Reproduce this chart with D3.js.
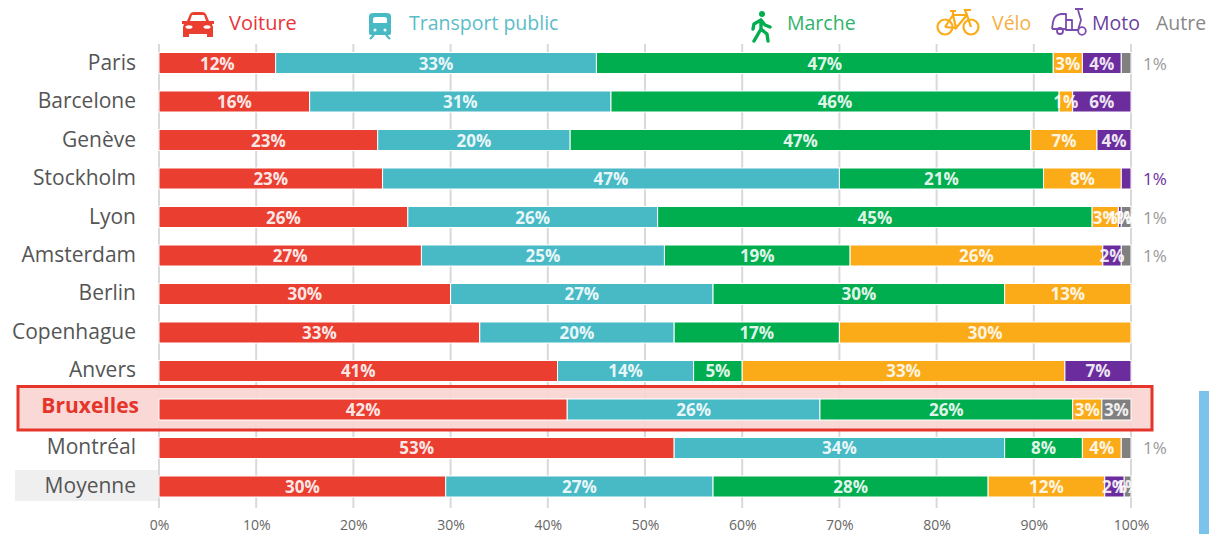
<!DOCTYPE html>
<html><head><meta charset="utf-8">
<script src="https://cdn.jsdelivr.net/npm/d3@7"></script>
<style>html,body{margin:0;padding:0;background:#fff}svg{display:block}text{font-family:"Open Sans","Noto Sans",sans-serif}</style>
</head><body><svg id="c" width="1209" height="534"></svg>
<script>
const cities=["Paris","Barcelone","Genève","Stockholm","Lyon","Amsterdam","Berlin","Copenhague","Anvers","Bruxelles","Montréal","Moyenne"];
const modes=["Voiture","Transport public","Marche","Vélo","Moto","Autre"];
const colors=["#ea3e30","#47bac6","#00ae50","#fbab18","#6b2d9e","#808080"];
const voiture=[12,15.5,22.5,23,25.6,27,30,33,41,42,53,29.5];
const transport=[33,31,19.8,47,25.7,25,27,20,14,26,34,27.5];
const marche=[47,46.1,47.4,21,44.7,19.1,30,17,5,26,8,28.3];
const velo=[3,1.4,6.8,8,2.7,26,13,30,33.2,3,4,12];
const moto=[4,6,3.5,1,0.3,1.9,0,0,6.8,0,0,2];
const autre=[1,0,0,0,1,1,0,0,0,3,1,0.7];
const labVoiture=["12%","16%","23%","23%","26%","27%","30%","33%","41%","42%","53%","30%"];
const labTransport=["33%","31%","20%","47%","26%","25%","27%","20%","14%","26%","34%","27%"];
const labMarche=["47%","46%","47%","21%","45%","19%","30%","17%","5%","26%","8%","28%"];
const labVelo=["3%","1%","7%","8%","3%","26%","13%","30%","33%","3%","4%","12%"];
const labMoto=["4%","6%","4%","","1%","2%","","","7%","","","2%"];
const labAutre=["","","","","1%","","","","","3%","","1%"];
const sideLabels=["1%","","","1%","1%","1%","","","","","1%",""];
const sideColors=["#999","","","#6b2d9e","#999","#999","","","","","#999",""];
const ticks=[0,10,20,30,40,50,60,70,80,90,100];

const svg=d3.select("#c");
const x=d3.scaleLinear().domain([0,100]).range([159,1131]);
const y=d3.scaleBand().domain(cities).range([52.5,497]).paddingInner(0.4545).paddingOuter(0);
const series=[voiture,transport,marche,velo,moto,autre];
const lab=[labVoiture,labTransport,labMarche,labVelo,labMoto,labAutre];
const rows=cities.map((c,i)=>{const r={city:c};modes.forEach((m,j)=>r[m]=series[j][i]);return r;});
const stacked=d3.stack().keys(modes)(rows);

// Highlight and average-row backgrounds
svg.append("rect").attr("x",15).attr("y",y("Moyenne")-6).attr("width",144).attr("height",31).attr("fill","#efefef");

// Side blue block
svg.append("rect").attr("x",1199).attr("y",391).attr("width",10).attr("height",143).attr("fill","#7bc3ea");

// Grid
svg.append("g").selectAll("line").data(ticks).join("line")
  .attr("x1",d=>x(d)).attr("x2",d=>x(d)).attr("y1",44).attr("y2",508)
  .attr("stroke","#d9d9d9").attr("stroke-width",2);

svg.append("rect").attr("x",18).attr("y",y("Bruxelles")-12.5).attr("width",1134).attr("height",43.5)
  .attr("fill","#f9d5d2").attr("fill-opacity",0.92).attr("stroke","#e5352b").attr("stroke-width",3);

// Axis
const axis=d3.axisBottom(x).tickValues(ticks).tickFormat(d=>d+"%").tickSize(0);
const ga=svg.append("g").attr("transform","translate(0,519)").call(axis);
ga.select(".domain").remove();
ga.selectAll("text").attr("font-size",14).attr("fill","#666").attr("dy","0.75em").attr("y",0);

// City labels
svg.append("g").selectAll("text").data(cities).join("text")
  .attr("x",d=>d==="Bruxelles"?139:136).attr("y",d=>y(d)+y.bandwidth()/2+(d==="Bruxelles"?4:6.5))
  .attr("text-anchor","end").attr("font-size",21)
  .attr("font-weight",d=>d==="Bruxelles"?700:400)
  .attr("fill",d=>d==="Bruxelles"?"#e5352b":"#555").text(d=>d);

// Bars
const g=svg.append("g").selectAll("g").data(stacked).join("g").attr("fill",(d,i)=>colors[i]);
g.selectAll("rect").data(d=>d).join("rect")
  .attr("x",d=>x(d[0])).attr("width",d=>Math.max(0,x(d[1])-x(d[0])))
  .attr("y",d=>y(d.data.city)).attr("height",y.bandwidth())
  .attr("stroke","#fff").attr("stroke-width",1);

// Bar labels
stacked.forEach((s,j)=>{
  svg.append("g").selectAll("text").data(s).join("text")
    .attr("x",d=>x((d[0]+d[1])/2)).attr("y",d=>y(d.data.city)+y.bandwidth()/2+6.5)
    .attr("text-anchor","middle").attr("font-size",17).attr("font-weight",700).attr("fill","#fff")
    .attr("fill-opacity",0.9)
    .text((d,i)=>lab[j][i]);
});

// Labels outside the bars
svg.append("g").selectAll("text").data(cities).join("text")
  .attr("x",1143).attr("y",d=>y(d)+y.bandwidth()/2+6.5)
  .attr("font-size",17).attr("fill",(d,i)=>sideColors[i]).text((d,i)=>sideLabels[i]);

// Legend
const legendX=[229,409,787,992,1092,1156];
const legendColors=["#e8333a","#5cbcc8","#2fb36b","#f5b042","#6b3fa0","#888"];
svg.append("g").selectAll("text").data(modes).join("text")
  .attr("x",(d,i)=>legendX[i]).attr("y",30).attr("font-size",(d,i)=>i===0?20:19.5)
  .attr("fill",(d,i)=>legendColors[i]).text(d=>d);

// Legend icons
const car=svg.append("g").attr("transform","translate(198,25)").attr("fill","#ea3e30");
car.append("path").attr("d","M-16,-4 L-11,-4 L-8,-11 Q-7,-13 -4,-13 L4,-13 Q7,-13 8,-11 L11,-4 L16,-4 L16,-1 L14,-1 L15,2 L15,12 L9,12 L9,9 L-9,9 L-9,12 L-15,12 L-15,2 L-14,-1 L-16,-1 Z");
car.append("path").attr("d","M-6,-10 L6,-10 L8,-4 L-8,-4 Z").attr("fill","#fff");
car.append("ellipse").attr("cx",-9).attr("cy",2).attr("rx",3.5).attr("ry",1.8).attr("fill","#fff");
car.append("ellipse").attr("cx",9).attr("cy",2).attr("rx",3.5).attr("ry",1.8).attr("fill","#fff");

const tram=svg.append("g").attr("transform","translate(380,25)");
tram.append("path").attr("d","M-11,-9 Q-11,-12 -6,-12 L6,-12 Q11,-12 11,-9 L11,8 Q11,10 8,10 L-8,10 Q-11,10 -11,8 Z").attr("fill","#47bac6");
tram.append("path").attr("d","M-7,-2 L-7,-6 Q-7,-8 -4,-8 L4,-8 Q7,-8 7,-6 L7,-2 Z").attr("fill","#fff");
tram.append("circle").attr("cx",-5).attr("cy",5).attr("r",1.5).attr("fill","#fff");
tram.append("circle").attr("cx",5).attr("cy",5).attr("r",1.5).attr("fill","#fff");
tram.append("path").attr("d","M-6,10 L-10,14 M6,10 L10,14").attr("stroke","#47bac6").attr("stroke-width",2.2);

const walk=svg.append("g").attr("transform","translate(761,26)").attr("stroke","#00ae50").attr("fill","none").attr("stroke-width",3.4).attr("stroke-linecap","round").attr("stroke-linejoin","round");
walk.append("circle").attr("cx",1).attr("cy",-12).attr("r",3).attr("fill","#00ae50").attr("stroke","none");
walk.append("path").attr("d","M0,-6 L0,3 L-7,15 M0,3 L6,8 L7,15 M0,-6 L-7,-2 L-8,3 M0,-6 L4,-1 L9,1");

const bike=svg.append("g").attr("transform","translate(958,23)").attr("stroke","#fbab18").attr("fill","none").attr("stroke-width",2.2);
bike.append("circle").attr("cx",-13).attr("cy",4).attr("r",7.5);
bike.append("circle").attr("cx",13).attr("cy",4).attr("r",7.5);
bike.append("path").attr("d","M-13,4 L-5,-8 L9,-8 L13,4 M-5,-8 L-2,5 L9,-8 M-2,5 L-13,4 M-8,-12 L-2,-12 M-5,-12 L-5,-8 M9,-8 L7,-13 L13,-13");

const scoot=svg.append("g").attr("transform","translate(1069,22)").attr("stroke","#7b4bb0").attr("fill","none").attr("stroke-width",1.8).attr("stroke-linejoin","round");
scoot.append("path").attr("d","M-17,7 L-16,0 Q-15,-7 -8,-8 L-3,-8 L-3,-2 L-3,8 L9,8 L12,-2 L9,-12");
scoot.append("path").attr("d","M6,-13 L14,-13 M-17,7 L-3,7 M-3,-2 L3,-2 L3,8");
scoot.append("circle").attr("cx",-9).attr("cy",9).attr("r",3);
scoot.append("circle").attr("cx",13).attr("cy",9).attr("r",3.8);
</script></body></html>
